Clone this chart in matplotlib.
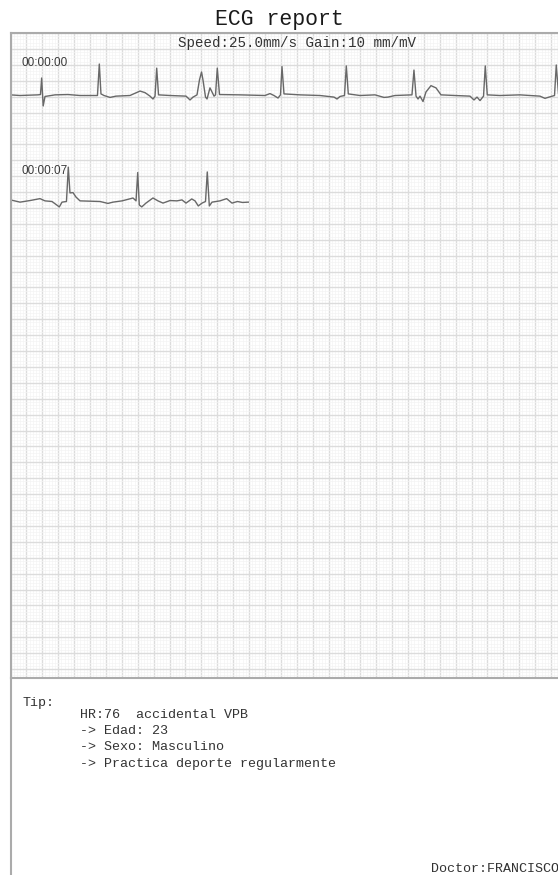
# ECG report page: two rhythm strips on mm grid plus a tip box

import matplotlib
matplotlib.use("Agg")
import numpy as np
import matplotlib.pyplot as plt
from matplotlib.lines import Line2D

# ---- recording settings ----
speed_mm_s = 25.0
gain_mm_mv = 10.0

# ---- strip 1 (00:00:00), time in s, amplitude in mV ----
strip1_t = [0.000, 0.120, 0.346, 0.377, 0.392, 0.411, 0.434, 0.560, 0.723, 0.874,
            1.094, 1.117, 1.138, 1.176, 1.252, 1.327, 1.503, 1.629, 1.692, 1.755,
            1.792, 1.818, 1.839, 1.862, 2.006, 2.208, 2.258, 2.296, 2.346, 2.377,
            2.403, 2.421, 2.453, 2.472, 2.509, 2.535, 2.560, 2.579, 2.601, 2.629,
            2.887, 3.201, 3.264, 3.314, 3.365, 3.396, 3.415, 3.440, 3.642, 3.893,
            4.069, 4.107, 4.145, 4.201, 4.224, 4.249, 4.396, 4.585, 4.698, 4.748,
            4.836, 5.050, 5.075, 5.101, 5.126, 5.151, 5.189, 5.226, 5.289, 5.352,
            5.415, 5.591, 5.780, 5.830, 5.868, 5.906, 5.950, 5.972, 5.997, 6.157,
            6.409, 6.660, 6.723, 6.774, 6.843, 6.865, 6.893, 6.975]
strip1_mv = [0.02, 0.00, 0.02, 0.03, 0.55, -0.33, -0.03, 0.02, 0.03, 0.00,
             0.00, 0.99, 0.05, 0.00, -0.06, -0.02, 0.00, 0.14, 0.09, -0.02,
             -0.11, -0.02, 0.86, 0.02, 0.00, -0.02, -0.14, -0.05, 0.02, 0.49,
             0.74, 0.49, -0.05, -0.11, 0.24, 0.11, -0.02, 0.02, 0.86, 0.03,
             0.02, 0.00, 0.06, 0.00, -0.08, 0.02, 0.91, 0.05, 0.02, 0.00,
             -0.05, -0.11, -0.03, 0.00, 0.93, 0.05, 0.00, 0.02, -0.06, -0.05,
             0.00, 0.02, 0.80, -0.02, -0.11, -0.02, -0.19, 0.11, 0.31, 0.24,
             0.02, 0.00, -0.02, -0.14, -0.05, -0.16, -0.02, 0.93, 0.02, 0.00,
             0.02, -0.02, -0.09, -0.05, 0.00, 0.96, 0.05, 0.00]

# ---- strip 2 (00:00:07) ----
strip2_t = [0.000, 0.120, 0.245, 0.371, 0.434, 0.522, 0.614, 0.648, 0.704, 0.727,
            0.748, 0.786, 0.824, 0.874, 1.126, 1.226, 1.289, 1.403, 1.465, 1.541,
            1.579, 1.600, 1.620, 1.651, 1.704, 1.792, 1.855, 1.918, 2.006, 2.094,
            2.157, 2.208, 2.280, 2.321, 2.362, 2.409, 2.453, 2.475, 2.501, 2.535,
            2.635, 2.719, 2.786, 2.855, 2.918, 2.991]
strip2_mv = [0.05, -0.02, 0.03, 0.09, 0.02, 0.00, -0.17, -0.02, 0.00, 1.08,
             0.27, 0.28, 0.14, 0.02, 0.00, -0.06, -0.02, 0.02, 0.06, 0.11,
             0.02, 0.91, -0.11, -0.17, -0.05, 0.11, 0.02, -0.05, 0.03, 0.02,
             0.05, -0.05, 0.08, 0.02, -0.14, -0.05, 0.00, 0.93, -0.14, -0.02,
             0.02, 0.09, -0.05, 0.00, -0.03, -0.02]

strip_labels = ["00:00:00", "00:00:07"]
tip_lines = ["HR:76  accidental VPB", "-> Edad: 23", "-> Sexo: Masculino",
             "-> Practica deporte regularmente"]
doctor = "Doctor:FRANCISCO"

# ---- page layout (pixels) ----
W, H = 558, 875
px_mm = 3.18
grid_left, grid_right, grid_top, grid_bottom = 10.5, 585, 33, 678
baselines_px = [95.5, 201.5]


def fx(x):
    return x / W


def fy(y):
    return 1 - y / H


fig = plt.figure(figsize=(W / 100, H / 100), dpi=100)
fig.patch.set_facecolor("white")

ax = fig.add_axes([fx(grid_left), fy(grid_bottom),
                   (grid_right - grid_left) / W, (grid_bottom - grid_top) / H])
xmax = (grid_right - grid_left) / px_mm
ymax = (grid_bottom - grid_top) / px_mm
ax.set_xlim(0, xmax)
ax.set_ylim(ymax, 0)

# mm grid
ax.set_xticks(np.arange(0, xmax, 5))
ax.set_xticks(np.arange(0, xmax, 1), minor=True)
ax.set_yticks(np.arange(0, ymax, 5))
ax.set_yticks(np.arange(0, ymax, 1), minor=True)
ax.grid(which="major", color="#dcdcdc", lw=1.0)
ax.grid(which="minor", color="#f4f4f4", lw=0.5)
ax.set_axisbelow(True)
ax.tick_params(which="both", length=0, labelbottom=False, labelleft=False)
ax.spines["right"].set_visible(False)
for side in ["left", "top", "bottom"]:
    ax.spines[side].set_color("#ababab")
    ax.spines[side].set_linewidth(1.5)

# traces
for t, mv, base in [(strip1_t, strip1_mv, baselines_px[0]),
                    (strip2_t, strip2_mv, baselines_px[1])]:
    x_mm = np.array(t) * speed_mm_s
    y_mm = (base - grid_top) / px_mm - np.array(mv) * gain_mm_mv
    ax.plot(x_mm, y_mm, color="#686868", lw=1.0, clip_on=True)

# left border of tip box continues down the page
fig.add_artist(Line2D([fx(grid_left), fx(grid_left)], [fy(grid_bottom), 0],
                      color="#ababab", lw=1.5))

mono = "Liberation Mono"
fig.text(fx(279), fy(20), "ECG report", ha="center", va="center",
         family=mono, fontsize=15.5, color="#1a1a1a")
fig.text(fx(178), fy(43), "Speed:25.0mm/s Gain:10 mm/mV", ha="left", va="center",
         family=mono, fontsize=10.2, color="#333333")

for label, y in zip(strip_labels, [63, 171]):
    fig.text(fx(22), fy(y), label, ha="left", va="center",
             family="Liberation Sans", fontsize=8.5, color="#3a3a3a")

fig.text(fx(23), fy(703), "Tip:", ha="left", va="center",
         family=mono, fontsize=9.6, color="#333333")
for i, line in enumerate(tip_lines):
    fig.text(fx(80), fy(715 + i * 16.2), line, ha="left", va="center",
             family=mono, fontsize=9.6, color="#333333")

fig.text(fx(431), fy(869), doctor, ha="left", va="center",
         family=mono, fontsize=9.6, color="#333333")

fig.savefig("out.png", dpi=100)
plt.close(fig)
